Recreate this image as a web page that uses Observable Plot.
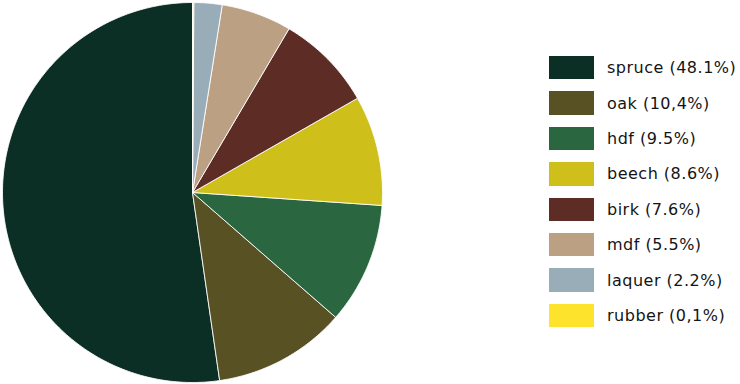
<!DOCTYPE html>
<html><head><meta charset="utf-8">
<script src="https://cdn.jsdelivr.net/npm/d3@7"></script>
<script src="https://cdn.jsdelivr.net/npm/@observablehq/plot@0.6"></script>
<style>
html,body{margin:0;padding:0;background:#fff;}
#wrap{position:relative;width:740px;height:384px;overflow:hidden;}
#chart{position:absolute;left:0;top:0;}
#legend{position:absolute;left:549px;top:50px;font-family:"DejaVu Sans",sans-serif;font-size:16px;color:#141414;letter-spacing:0.5px;}
.row{display:flex;align-items:center;height:35.4px;}
.sw{width:45px;height:23.5px;margin-right:13px;flex:none;}
</style></head><body><div id="wrap"><div id="chart"></div><div id="legend"></div></div>
<script>
const categories = ["spruce", "oak", "hdf", "beech", "birk", "mdf", "laquer", "rubber"];
const values = [48.1, 10.4, 9.5, 8.6, 7.6, 5.5, 2.2, 0.1];
const labels = ["spruce (48.1%)", "oak (10,4%)", "hdf (9.5%)", "beech (8.6%)", "birk (7.6%)", "mdf (5.5%)", "laquer (2.2%)", "rubber (0,1%)"];
const colors = ["#0b2e25", "#575124", "#2a6640", "#cfbf1b", "#5d2c25", "#bba083", "#98adb8", "#fde32c"];

// build slice outlines (counter-clockwise from 12 o'clock)
const total = d3.sum(values);
const pts = [];
let acc = 0;
categories.forEach((name, i) => {
  const a0 = acc / total * 2 * Math.PI;
  acc += values[i];
  const a1 = acc / total * 2 * Math.PI;
  const n = Math.max(2, Math.ceil((a1 - a0) / (Math.PI / 180)));
  pts.push({name, x: 0, y: 0});
  for (let k = 0; k <= n; k++) {
    const a = a0 + (a1 - a0) * k / n;
    pts.push({name, x: -Math.sin(a), y: Math.cos(a)});
  }
  pts.push({name, x: 0, y: 0});
});

const chart = Plot.plot({
  width: 384,
  height: 384,
  margin: 2,
  x: {domain: [-1, 1], axis: null},
  y: {domain: [-1, 1], axis: null},
  color: {domain: categories, range: colors},
  marks: [
    Plot.line(pts, {x: "x", y: "y", z: "name", fill: "name", stroke: "white", strokeWidth: 1, strokeOpacity: 0.85, curve: "linear"})
  ]
});
document.getElementById("chart").appendChild(chart);

const legend = document.getElementById("legend");
categories.forEach((c, i) => {
  const row = document.createElement("div");
  row.className = "row";
  const sw = document.createElement("div");
  sw.className = "sw";
  sw.style.background = colors[i];
  const t = document.createElement("span");
  t.textContent = labels[i];
  row.appendChild(sw);
  row.appendChild(t);
  legend.appendChild(row);
});
</script>
</body></html>
